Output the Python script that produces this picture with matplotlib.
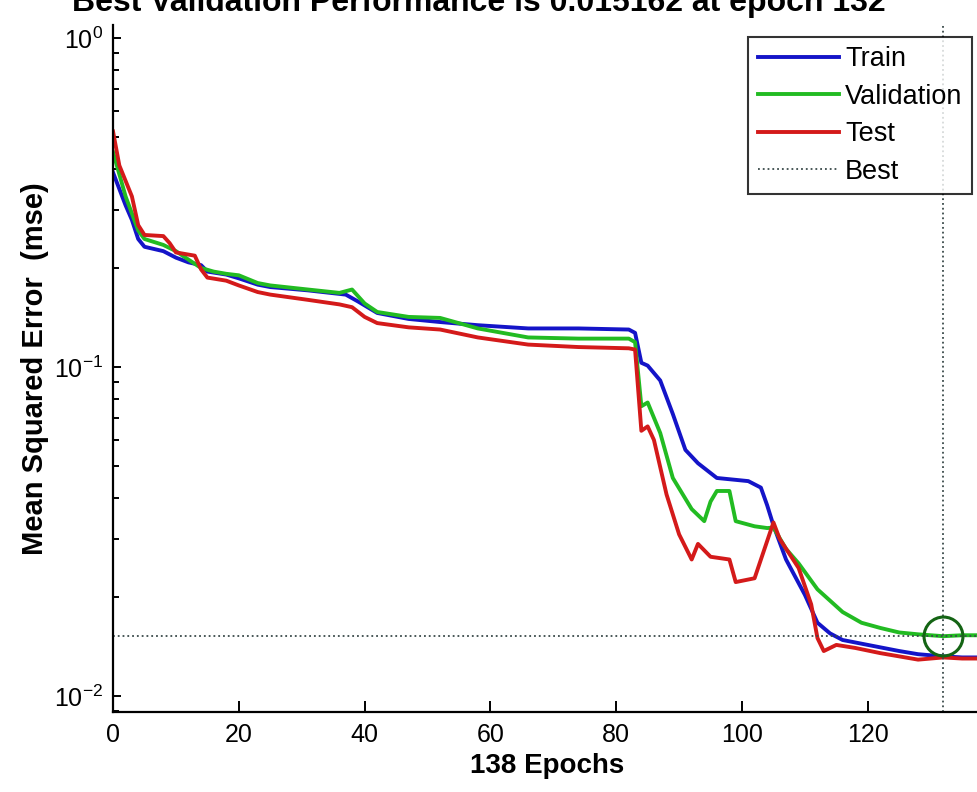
import matplotlib
matplotlib.use('Agg')
import matplotlib.pyplot as plt

plt.rcParams['font.family'] = ['Liberation Sans', 'DejaVu Sans']
plt.rcParams['mathtext.fontset'] = 'custom'
plt.rcParams['mathtext.rm'] = 'Liberation Sans'
plt.rcParams['mathtext.default'] = 'regular'

# performance per epoch
train_epochs = [0, 2, 3, 4, 5, 8, 10, 12, 14, 15, 18, 20, 23, 25, 31, 37, 39, 42, 47, 52,
                58, 66, 74, 82, 83, 84, 85, 87, 89, 91, 93, 96, 101, 103, 104, 105, 107,
                110, 112, 114, 116, 120, 125, 128, 132, 135, 138]
train_mse = [0.39, 0.31, 0.28, 0.245, 0.232, 0.225, 0.215, 0.208, 0.204, 0.195, 0.191,
             0.186, 0.178, 0.175, 0.171, 0.166, 0.158, 0.146, 0.140, 0.137, 0.134, 0.131,
             0.131, 0.130, 0.127, 0.103, 0.101, 0.091, 0.072, 0.056, 0.051, 0.046, 0.045,
             0.043, 0.038, 0.033, 0.026, 0.0203, 0.0167, 0.0155, 0.0148, 0.0143, 0.0137,
             0.0134, 0.0132, 0.0131, 0.0131]

val_epochs = [0, 2, 4, 5, 8, 10, 12, 14, 16, 18, 20, 23, 25, 31, 36, 38, 40, 42, 47, 52,
              58, 66, 74, 82, 83, 84, 85, 87, 89, 92, 94, 95, 96, 98, 99, 102, 104, 105,
              107, 109, 112, 116, 119, 122, 125, 128, 132, 135, 138]
val_mse = [0.45, 0.33, 0.26, 0.245, 0.235, 0.225, 0.212, 0.200, 0.195, 0.192, 0.190,
           0.180, 0.177, 0.172, 0.168, 0.172, 0.156, 0.147, 0.142, 0.141, 0.131, 0.123,
           0.122, 0.122, 0.119, 0.076, 0.078, 0.063, 0.046, 0.037, 0.034, 0.039, 0.042,
           0.042, 0.034, 0.0328, 0.0324, 0.0325, 0.028, 0.0253, 0.0211, 0.018, 0.0167,
           0.0161, 0.0156, 0.0154, 0.0152, 0.0153, 0.0153]

test_epochs = [0, 1, 3, 4, 5, 8, 9, 10, 13, 14, 15, 18, 20, 23, 25, 31, 36, 38, 40, 42,
               47, 52, 58, 66, 74, 82, 83, 84, 85, 86, 88, 90, 92, 93, 95, 98, 99, 102,
               105, 106, 109, 111, 112, 113, 115, 118, 122, 128, 132, 135, 138]
test_mse = [0.52, 0.41, 0.33, 0.27, 0.252, 0.250, 0.238, 0.223, 0.218, 0.198, 0.187,
            0.183, 0.177, 0.169, 0.166, 0.160, 0.155, 0.152, 0.142, 0.136, 0.132, 0.130,
            0.123, 0.117, 0.115, 0.114, 0.113, 0.064, 0.066, 0.060, 0.041, 0.031, 0.026,
            0.029, 0.0265, 0.026, 0.0222, 0.0228, 0.0337, 0.030, 0.0245, 0.019, 0.0150,
            0.0137, 0.0143, 0.0140, 0.0135, 0.0129, 0.0131, 0.0130, 0.0130]

best_epoch = 132
best_perf = 0.0152
n_epochs = 138

fig = plt.figure(figsize=(9.77, 7.92), dpi=100)
ax = fig.add_axes([0.1157, 0.1010, 0.8884, 0.8674])

ax.plot(train_epochs, train_mse, color='#1414c8', lw=2.8, label='Train')
ax.plot(val_epochs, val_mse, color='#22bb22', lw=2.8, label='Validation')
ax.plot(test_epochs, test_mse, color='#d41a1a', lw=2.8, label='Test')
ax.axhline(best_perf, color='#3a4a4a', ls=':', lw=1.3, label='Best')
ax.axvline(best_epoch, color='#3a4a4a', ls=':', lw=1.3)
ax.plot([best_epoch], [best_perf], marker='o', ms=28, mfc='none',
        mec='#146414', mew=2.2, ls='None')

ax.set_yscale('log')
ax.set_xlim(0, n_epochs)
ax.set_ylim(10 ** -2.0486, 10 ** 0.0395)
ax.set_xticks([0, 20, 40, 60, 80, 100, 120])

for side in ['top', 'right']:
    ax.spines[side].set_visible(False)
for side in ['left', 'bottom']:
    ax.spines[side].set_linewidth(1.6)

ax.tick_params(which='both', direction='in', top=False, right=False,
               width=1.4, labelsize=18)
ax.tick_params(axis='x', which='major', length=8, pad=8)
ax.tick_params(axis='y', which='major', length=6, pad=7)
ax.tick_params(axis='y', which='minor', length=4)

ax.set_xlabel(
    xlabel=str(n_epochs) + ' Epochs',
    fontsize=20,
    fontweight='bold',
    labelpad=4
)
ax.set_ylabel(
    ylabel='Mean Squared Error  (mse)',
    fontsize=21,
    fontweight='bold',
    labelpad=4
)
fig.text(72 / 977, 1 - 11 / 792,
         'Best Validation Performance is 0.015162 at epoch 132',
         fontsize=23, fontweight='bold', ha='left', va='baseline')

leg = ax.legend(loc='upper right', bbox_to_anchor=(972 / 977, 1 - 37 / 792),
                bbox_transform=fig.transFigure, fontsize=19.5, frameon=True,
                fancybox=False, handlelength=3.0, handletextpad=0.22,
                labelspacing=0.42, borderpad=0.35, borderaxespad=0)
leg.get_frame().set_edgecolor('black')
leg.get_frame().set_linewidth(1.5)

fig.savefig('out.png', dpi=100)
